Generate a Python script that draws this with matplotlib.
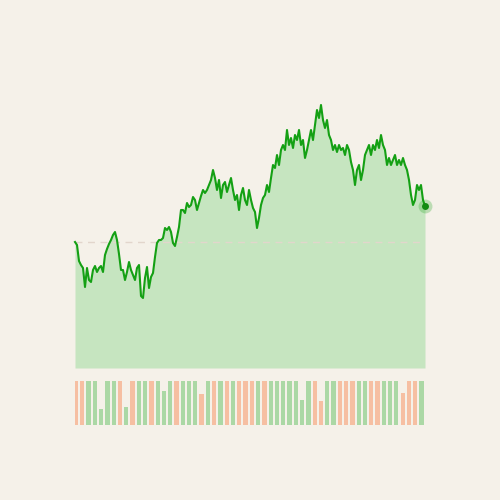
import matplotlib
matplotlib.use("Agg")
import matplotlib.pyplot as plt
import numpy as np

# closing prices, one per session
prices = [
    100.0, 99.4, 96.2, 95.4, 94.8, 91.0, 94.8, 92.4, 92.0, 94.4,
    95.2, 94.0, 94.8, 95.2, 94.0, 97.4, 98.6, 99.6, 100.4, 101.4,
    102.0, 100.4, 97.6, 94.4, 94.4, 92.4, 94.0, 96.0, 94.4, 93.4,
    92.4, 94.8, 95.4, 89.2, 88.8, 92.8, 95.0, 90.8, 93.0, 93.8,
    97.0, 99.8, 100.4, 100.4, 100.8, 102.8, 102.4, 103.0, 102.0, 99.8,
    99.2, 101.0, 103.0, 106.4, 106.4, 105.8, 107.8, 107.0,
    107.4, 109.0, 108.4, 106.4, 107.8, 109.2, 110.4, 109.8, 110.4, 111.4,
    112.4, 114.4, 112.8, 110.4, 112.4, 108.8, 111.4, 112.0, 110.0, 111.4,
    112.8, 110.4, 108.4, 109.4, 106.4, 109.4, 110.8, 108.4, 107.4, 110.4,
    108.4, 106.8, 106.0, 102.8, 104.8, 107.4, 108.8, 109.4, 111.4, 110.0,
    112.8, 115.4, 114.8, 117.4, 115.4, 118.4, 119.4, 118.4, 122.4, 119.4,
    120.8, 118.8, 121.4, 120.4, 122.4, 119.4, 120.4, 116.8, 118.4, 120.4,
    122.4, 120.4, 123.4, 126.4, 124.8, 127.4, 124.4, 122.8, 124.4, 121.4,
    120.4, 118.4, 119.4, 118.0, 119.4, 118.4, 118.8, 117.4, 119.4, 118.4,
    116.0, 114.4, 111.4, 114.4, 115.4, 112.4, 114.4, 117.4, 118.4, 119.4,
    117.4, 119.4, 118.4, 120.4, 118.8, 121.4, 119.4, 118.4, 115.4, 116.8,
    115.4, 116.4, 117.4, 115.4, 116.4, 115.4, 116.8, 115.4, 114.4, 112.4,
    109.4, 107.4, 108.4, 111.4, 110.4, 111.4, 108.4, 107.2,
]

# volume bars (relative), and whether the bar was an up day
volume = [
    100, 100, 100, 100, 36, 100, 100, 100, 41, 100,
    100, 100, 100, 100, 77, 100, 100, 100, 100, 100,
    70, 100, 100, 100, 100, 100, 100, 100, 100, 100,
    100, 100, 100, 100, 100, 100, 57, 100, 100, 55,
    100, 100, 100, 100, 100, 100, 100, 100, 100, 100,
    100, 100, 73, 100, 100, 100,
]
up_day = [
    0, 0, 1, 1, 1, 1, 1, 0, 1, 0,
    1, 1, 0, 1, 1, 1, 0, 1, 1, 1,
    0, 1, 0, 1, 0, 1, 0, 0, 0, 1,
    0, 1, 1, 1, 1, 1, 1, 1, 0, 0,
    1, 1, 0, 0, 0, 1, 1, 0, 0, 1,
    1, 1, 0, 0, 0, 1,
]

BG = "#f5f1e9"
LINE = "#14a014"
FILL = "#c6e5c0"
UP = "#abd8a5"
DOWN = "#f6bfa2"

fig = plt.figure(figsize=(5, 5), dpi=100, facecolor=BG)

# price panel
ax = fig.add_axes([0.15, 0.264, 0.70, 0.586])
ax.set_facecolor(BG)
x = np.arange(len(prices))
base = 74.8
ax.fill_between(x, prices, base, color=FILL, lw=0)
ax.axhline(prices[0], color="#e2d6cc", lw=1, ls=(0, (5, 4)))
ax.plot(x, prices, color=LINE, lw=1.5, solid_joinstyle="round", clip_on=False)
# last price marker with a soft halo
ax.plot(x[-1], prices[-1], "o", color=LINE, alpha=0.25, ms=10, mew=0,
        clip_on=False, zorder=4)
ax.plot(x[-1], prices[-1], "o", color="#118a11", ms=5, mew=0,
        clip_on=False, zorder=5)
ax.set_xlim(0, len(prices) - 1)
ax.set_ylim(base, 133.4)
ax.axis("off")

# volume panel
vax = fig.add_axes([0.15, 0.15, 0.70, 0.088])
vax.set_facecolor(BG)
colors = [UP if u else DOWN for u in up_day]
vax.bar(np.arange(len(volume)), volume, width=0.68, color=colors, lw=0)
vax.set_xlim(-0.16, len(volume) - 0.44)
vax.set_ylim(0, 100)
vax.axis("off")

fig.savefig("out.png", dpi=100, facecolor=BG)
